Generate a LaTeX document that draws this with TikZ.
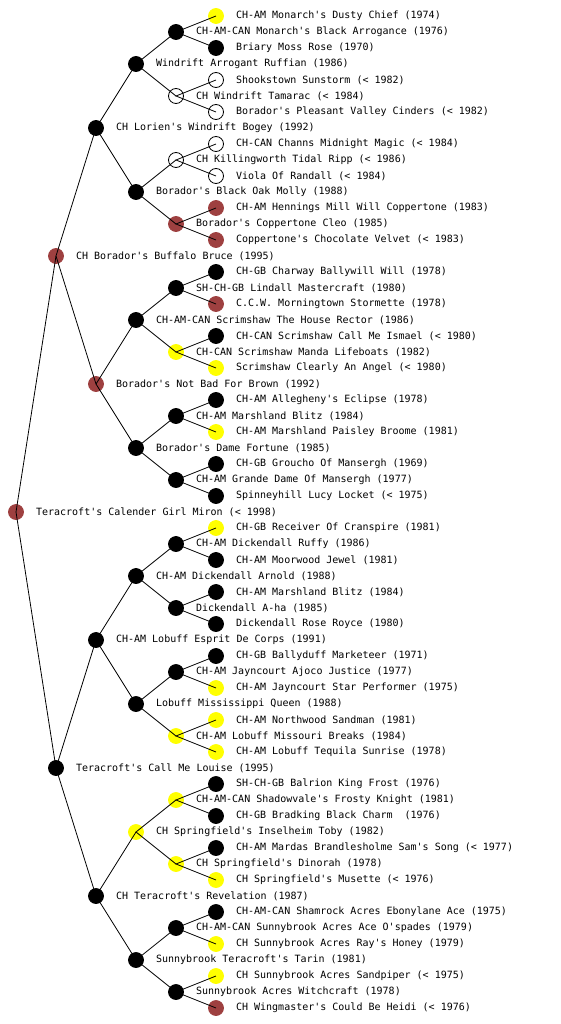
\documentclass[tikz,border=0pt]{standalone}
\usepackage{fontspec}
\setmonofont{DejaVu Sans Mono}
\definecolor{dogbrown}{RGB}{158,64,64}
\definecolor{dogyellow}{RGB}{255,255,0}
\tikzset{
  dog/.style={circle, minimum size=15pt, inner sep=0pt, line width=0.8pt},
  blk/.style={dog, draw=black, fill=black},
  ylw/.style={dog, draw=dogyellow, fill=dogyellow},
  brn/.style={dog, draw=dogbrown, fill=dogbrown},
  unk/.style={dog, draw=black},
  lbl/.style={font=\ttfamily\fontsize{10}{12}\selectfont, inner sep=0pt, label distance=12pt},
  link/.style={line width=0.8pt}
}
\begin{document}
\begin{tikzpicture}[x=1pt, y=1pt]
  \useasboundingbox (0,0) rectangle (560,-1024);

  % Dog
  \node[brn, label={[lbl]right:{Teracroft's Calender Girl Miron (< 1998)}}] (c) at (16,-512) {};

  % Parents
  \node[brn, label={[lbl]right:{CH Borador's Buffalo Bruce (1995)}}] (s) at (56,-256) {};
  \node[blk, label={[lbl]right:{Teracroft's Call Me Louise (1995)}}] (d) at (56,-768) {};

  % Grandparents
  \node[blk, label={[lbl]right:{CH Lorien's Windrift Bogey (1992)}}] (ss) at (96,-128) {};
  \node[brn, label={[lbl]right:{Borador's Not Bad For Brown (1992)}}] (sd) at (96,-384) {};
  \node[blk, label={[lbl]right:{CH-AM Lobuff Esprit De Corps (1991)}}] (ds) at (96,-640) {};
  \node[blk, label={[lbl]right:{CH Teracroft's Revelation (1987)}}] (dd) at (96,-896) {};

  % Great-grandparents
  \node[blk, label={[lbl]right:{Windrift Arrogant Ruffian (1986)}}] (sss) at (136,-64) {};
  \node[blk, label={[lbl]right:{Borador's Black Oak Molly (1988)}}] (ssd) at (136,-192) {};
  \node[blk, label={[lbl]right:{CH-AM-CAN Scrimshaw The House Rector (1986)}}] (sds) at (136,-320) {};
  \node[blk, label={[lbl]right:{Borador's Dame Fortune (1985)}}] (sdd) at (136,-448) {};
  \node[blk, label={[lbl]right:{CH-AM Dickendall Arnold (1988)}}] (dss) at (136,-576) {};
  \node[blk, label={[lbl]right:{Lobuff Mississippi Queen (1988)}}] (dsd) at (136,-704) {};
  \node[ylw, label={[lbl]right:{CH Springfield's Inselheim Toby (1982)}}] (dds) at (136,-832) {};
  \node[blk, label={[lbl]right:{Sunnybrook Teracroft's Tarin (1981)}}] (ddd) at (136,-960) {};

  % Fourth generation
  \node[blk, label={[lbl]right:{CH-AM-CAN Monarch's Black Arrogance (1976)}}] (ssss) at (176,-32) {};
  \node[unk, label={[lbl]right:{CH Windrift Tamarac (< 1984)}}] (sssd) at (176,-96) {};
  \node[unk, label={[lbl]right:{CH Killingworth Tidal Ripp (< 1986)}}] (ssds) at (176,-160) {};
  \node[brn, label={[lbl]right:{Borador's Coppertone Cleo (1985)}}] (ssdd) at (176,-224) {};
  \node[blk, label={[lbl]right:{SH-CH-GB Lindall Mastercraft (1980)}}] (sdss) at (176,-288) {};
  \node[ylw, label={[lbl]right:{CH-CAN Scrimshaw Manda Lifeboats (1982)}}] (sdsd) at (176,-352) {};
  \node[blk, label={[lbl]right:{CH-AM Marshland Blitz (1984)}}] (sdds) at (176,-416) {};
  \node[blk, label={[lbl]right:{CH-AM Grande Dame Of Mansergh (1977)}}] (sddd) at (176,-480) {};
  \node[blk, label={[lbl]right:{CH-AM Dickendall Ruffy (1986)}}] (dsss) at (176,-544) {};
  \node[blk, label={[lbl]right:{Dickendall A-ha (1985)}}] (dssd) at (176,-608) {};
  \node[blk, label={[lbl]right:{CH-AM Jayncourt Ajoco Justice (1977)}}] (dsds) at (176,-672) {};
  \node[ylw, label={[lbl]right:{CH-AM Lobuff Missouri Breaks (1984)}}] (dsdd) at (176,-736) {};
  \node[ylw, label={[lbl]right:{CH-AM-CAN Shadowvale's Frosty Knight (1981)}}] (ddss) at (176,-800) {};
  \node[ylw, label={[lbl]right:{CH Springfield's Dinorah (1978)}}] (ddsd) at (176,-864) {};
  \node[blk, label={[lbl]right:{CH-AM-CAN Sunnybrook Acres Ace O'spades (1979)}}] (ddds) at (176,-928) {};
  \node[blk, label={[lbl]right:{Sunnybrook Acres Witchcraft (1978)}}] (dddd) at (176,-992) {};

  % Fifth generation
  \node[ylw, label={[lbl]right:{CH-AM Monarch's Dusty Chief (1974)}}] (sssss) at (216,-16) {};
  \node[blk, label={[lbl]right:{Briary Moss Rose (1970)}}] (ssssd) at (216,-48) {};
  \node[unk, label={[lbl]right:{Shookstown Sunstorm (< 1982)}}] (sssds) at (216,-80) {};
  \node[unk, label={[lbl]right:{Borador's Pleasant Valley Cinders (< 1982)}}] (sssdd) at (216,-112) {};
  \node[unk, label={[lbl]right:{CH-CAN Channs Midnight Magic (< 1984)}}] (ssdss) at (216,-144) {};
  \node[unk, label={[lbl]right:{Viola Of Randall (< 1984)}}] (ssdsd) at (216,-176) {};
  \node[brn, label={[lbl]right:{CH-AM Hennings Mill Will Coppertone (1983)}}] (ssdds) at (216,-208) {};
  \node[brn, label={[lbl]right:{Coppertone's Chocolate Velvet (< 1983)}}] (ssddd) at (216,-240) {};
  \node[blk, label={[lbl]right:{CH-GB Charway Ballywill Will (1978)}}] (sdsss) at (216,-272) {};
  \node[brn, label={[lbl]right:{C.C.W. Morningtown Stormette (1978)}}] (sdssd) at (216,-304) {};
  \node[blk, label={[lbl]right:{CH-CAN Scrimshaw Call Me Ismael (< 1980)}}] (sdsds) at (216,-336) {};
  \node[ylw, label={[lbl]right:{Scrimshaw Clearly An Angel (< 1980)}}] (sdsdd) at (216,-368) {};
  \node[blk, label={[lbl]right:{CH-AM Allegheny's Eclipse (1978)}}] (sddss) at (216,-400) {};
  \node[ylw, label={[lbl]right:{CH-AM Marshland Paisley Broome (1981)}}] (sddsd) at (216,-432) {};
  \node[blk, label={[lbl]right:{CH-GB Groucho Of Mansergh (1969)}}] (sddds) at (216,-464) {};
  \node[blk, label={[lbl]right:{Spinneyhill Lucy Locket (< 1975)}}] (sdddd) at (216,-496) {};
  \node[ylw, label={[lbl]right:{CH-GB Receiver Of Cranspire (1981)}}] (dssss) at (216,-528) {};
  \node[blk, label={[lbl]right:{CH-AM Moorwood Jewel (1981)}}] (dsssd) at (216,-560) {};
  \node[blk, label={[lbl]right:{CH-AM Marshland Blitz (1984)}}] (dssds) at (216,-592) {};
  \node[blk, label={[lbl]right:{Dickendall Rose Royce (1980)}}] (dssdd) at (216,-624) {};
  \node[blk, label={[lbl]right:{CH-GB Ballyduff Marketeer (1971)}}] (dsdss) at (216,-656) {};
  \node[ylw, label={[lbl]right:{CH-AM Jayncourt Star Performer (1975)}}] (dsdsd) at (216,-688) {};
  \node[ylw, label={[lbl]right:{CH-AM Northwood Sandman (1981)}}] (dsdds) at (216,-720) {};
  \node[ylw, label={[lbl]right:{CH-AM Lobuff Tequila Sunrise (1978)}}] (dsddd) at (216,-752) {};
  \node[blk, label={[lbl]right:{SH-CH-GB Balrion King Frost (1976)}}] (ddsss) at (216,-784) {};
  \node[blk, label={[lbl]right:{CH-GB Bradking Black Charm\ \ (1976)}}] (ddssd) at (216,-816) {};
  \node[blk, label={[lbl]right:{CH-AM Mardas Brandlesholme Sam's Song (< 1977)}}] (ddsds) at (216,-848) {};
  \node[ylw, label={[lbl]right:{CH Springfield's Musette (< 1976)}}] (ddsdd) at (216,-880) {};
  \node[blk, label={[lbl]right:{CH-AM-CAN Shamrock Acres Ebonylane Ace (1975)}}] (dddss) at (216,-912) {};
  \node[ylw, label={[lbl]right:{CH Sunnybrook Acres Ray's Honey (1979)}}] (dddsd) at (216,-944) {};
  \node[ylw, label={[lbl]right:{CH Sunnybrook Acres Sandpiper (< 1975)}}] (dddds) at (216,-976) {};
  \node[brn, label={[lbl]right:{CH Wingmaster's Could Be Heidi (< 1976)}}] (ddddd) at (216,-1008) {};

  % Links, sire above and dam below each dog
  \draw[link] (s.center) -- (c.center) -- (d.center);
  \draw[link] (ss.center) -- (s.center) -- (sd.center);
  \draw[link] (ds.center) -- (d.center) -- (dd.center);
  \draw[link] (sss.center) -- (ss.center) -- (ssd.center);
  \draw[link] (sds.center) -- (sd.center) -- (sdd.center);
  \draw[link] (dss.center) -- (ds.center) -- (dsd.center);
  \draw[link] (dds.center) -- (dd.center) -- (ddd.center);
  \draw[link] (ssss.center) -- (sss.center) -- (sssd.center);
  \draw[link] (ssds.center) -- (ssd.center) -- (ssdd.center);
  \draw[link] (sdss.center) -- (sds.center) -- (sdsd.center);
  \draw[link] (sdds.center) -- (sdd.center) -- (sddd.center);
  \draw[link] (dsss.center) -- (dss.center) -- (dssd.center);
  \draw[link] (dsds.center) -- (dsd.center) -- (dsdd.center);
  \draw[link] (ddss.center) -- (dds.center) -- (ddsd.center);
  \draw[link] (ddds.center) -- (ddd.center) -- (dddd.center);
  \draw[link] (sssss.center) -- (ssss.center) -- (ssssd.center);
  \draw[link] (sssds.center) -- (sssd.center) -- (sssdd.center);
  \draw[link] (ssdss.center) -- (ssds.center) -- (ssdsd.center);
  \draw[link] (ssdds.center) -- (ssdd.center) -- (ssddd.center);
  \draw[link] (sdsss.center) -- (sdss.center) -- (sdssd.center);
  \draw[link] (sdsds.center) -- (sdsd.center) -- (sdsdd.center);
  \draw[link] (sddss.center) -- (sdds.center) -- (sddsd.center);
  \draw[link] (sddds.center) -- (sddd.center) -- (sdddd.center);
  \draw[link] (dssss.center) -- (dsss.center) -- (dsssd.center);
  \draw[link] (dssds.center) -- (dssd.center) -- (dssdd.center);
  \draw[link] (dsdss.center) -- (dsds.center) -- (dsdsd.center);
  \draw[link] (dsdds.center) -- (dsdd.center) -- (dsddd.center);
  \draw[link] (ddsss.center) -- (ddss.center) -- (ddssd.center);
  \draw[link] (ddsds.center) -- (ddsd.center) -- (ddsdd.center);
  \draw[link] (dddss.center) -- (ddds.center) -- (dddsd.center);
  \draw[link] (dddds.center) -- (dddd.center) -- (ddddd.center);
\end{tikzpicture}
\end{document}
